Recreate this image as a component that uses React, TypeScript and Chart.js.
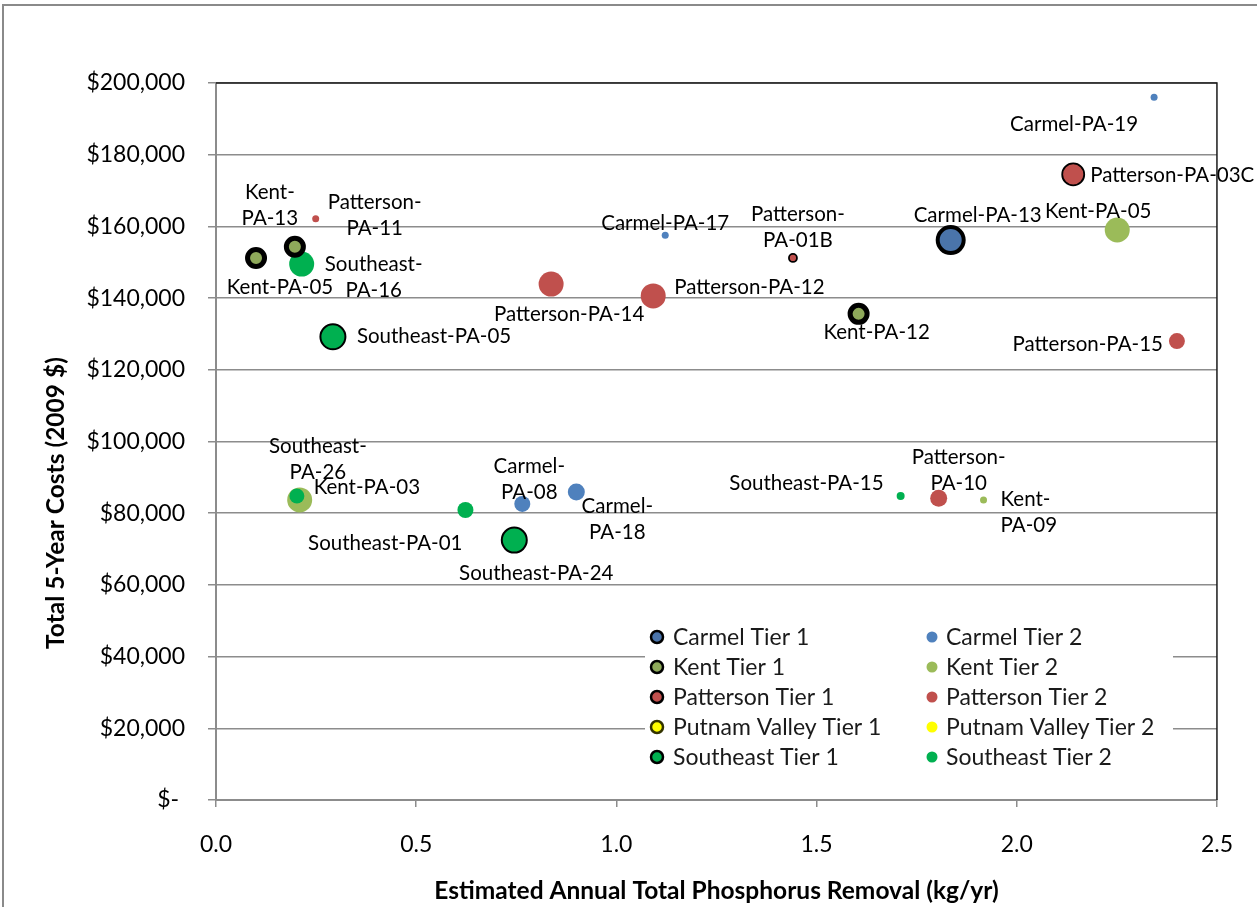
import React, { useEffect, useRef } from "react";
import { Chart, registerables } from "chart.js";

Chart.register(...registerables);

// Legend entries, in the order they appear (two columns, row by row)
const seriesNames = [
  "Carmel Tier 1",
  "Carmel Tier 2",
  "Kent Tier 1",
  "Kent Tier 2",
  "Patterson Tier 1",
  "Patterson Tier 2",
  "Putnam Valley Tier 1",
  "Putnam Valley Tier 2",
  "Southeast Tier 1",
  "Southeast Tier 2",
];

// Project names
const projects = [
  "Carmel-PA-19",
  "Patterson-PA-03C",
  "Kent-PA-05",
  "Carmel-PA-13",
  "Patterson-PA-15",
  "Carmel-PA-17",
  "Patterson-PA-01B",
  "Patterson-PA-14",
  "Patterson-PA-12",
  "Kent-PA-12",
  "Kent-PA-13",
  "Patterson-PA-11",
  "Kent-PA-05",
  "Southeast-PA-16",
  "Southeast-PA-05",
  "Southeast-PA-26",
  "Kent-PA-03",
  "Southeast-PA-01",
  "Carmel-PA-08",
  "Carmel-PA-18",
  "Southeast-PA-24",
  "Southeast-PA-15",
  "Patterson-PA-10",
  "Kent-PA-09",
];

// Series each project belongs to
const projectSeries = [
  "Carmel Tier 2",
  "Patterson Tier 1",
  "Kent Tier 2",
  "Carmel Tier 1",
  "Patterson Tier 2",
  "Carmel Tier 2",
  "Patterson Tier 1",
  "Patterson Tier 2",
  "Patterson Tier 2",
  "Kent Tier 1",
  "Kent Tier 1",
  "Patterson Tier 2",
  "Kent Tier 1",
  "Southeast Tier 2",
  "Southeast Tier 1",
  "Southeast Tier 2",
  "Kent Tier 2",
  "Southeast Tier 2",
  "Carmel Tier 2",
  "Carmel Tier 2",
  "Southeast Tier 1",
  "Southeast Tier 2",
  "Patterson Tier 2",
  "Kent Tier 2",
];

// Estimated annual total phosphorus removal (kg/yr)
const removal = [
  2.343, 2.141, 2.251, 1.835, 2.4, 1.122, 1.441, 0.837, 1.092, 1.605, 0.197,
  0.249, 0.1, 0.214, 0.292, 0.202, 0.209, 0.623, 0.765, 0.9, 0.745, 1.71,
  1.805, 1.917,
];

// Total 5-year costs (2009 $)
const cost = [
  196000, 174500, 159000, 156200, 128000, 157500, 151200, 143900, 140600,
  135600, 154300, 162100, 151200, 149500, 129200, 84800, 83700, 80900, 82600,
  85900, 72500, 84800, 84200, 83700,
];

// Bubble size (radius)
const bubbleSize = [
  3.5, 11, 12.5, 13, 8, 3.5, 4, 12.5, 12.5, 8.5, 8.5, 3.5, 8.5, 12.5, 12.5,
  7.5, 12.5, 8, 8, 8.5, 12.5, 4, 8.5, 3.5,
];

// Appearance of each series
const seriesStyle: Record<string, { fill: string; border: string; width: number; order: number }> = {
  "Carmel Tier 1": { fill: "#4a74aa", border: "#000000", width: 4, order: 1 },
  "Carmel Tier 2": { fill: "#4f81bd", border: "#4f81bd", width: 0, order: 3 },
  "Kent Tier 1": { fill: "#8ea95a", border: "#000000", width: 5, order: 1 },
  "Kent Tier 2": { fill: "#9bbb59", border: "#9bbb59", width: 0, order: 3 },
  "Patterson Tier 1": { fill: "#c0504d", border: "#000000", width: 1.8, order: 1 },
  "Patterson Tier 2": { fill: "#c0504d", border: "#c0504d", width: 0, order: 3 },
  "Putnam Valley Tier 1": { fill: "#ffff00", border: "#333300", width: 2, order: 1 },
  "Putnam Valley Tier 2": { fill: "#ffff00", border: "#ffff00", width: 0, order: 3 },
  "Southeast Tier 1": { fill: "#00b050", border: "#000000", width: 2, order: 1 },
  "Southeast Tier 2": { fill: "#00b050", border: "#00b050", width: 0, order: 2 },
};

// Label placement relative to each bubble: offset, alignment, two-line wrap
type LabelPlace = { dx: number; dy: number; align: "left" | "center" | "right"; wrap?: boolean };
const labelPlacement: LabelPlace[] = [
  { dx: -80, dy: 27, align: "center" },
  { dx: 17, dy: 1, align: "left" },
  { dx: -19, dy: -19, align: "center" },
  { dx: 27, dy: -25, align: "center" },
  { dx: -14, dy: 3, align: "right" },
  { dx: 0, dy: -12, align: "center" },
  { dx: 5, dy: -31, align: "center", wrap: true },
  { dx: 18, dy: 30, align: "center" },
  { dx: 21, dy: -9, align: "left" },
  { dx: 18, dy: 19, align: "center" },
  { dx: -25, dy: -41, align: "center", wrap: true },
  { dx: 59, dy: -3, align: "center", wrap: true },
  { dx: 24, dy: 29, align: "center" },
  { dx: 72, dy: 13, align: "center", wrap: true },
  { dx: 24, dy: 0, align: "left" },
  { dx: 21, dy: -37, align: "center", wrap: true },
  { dx: 14, dy: -13, align: "left" },
  { dx: -3, dy: 33, align: "right" },
  { dx: 7, dy: -24, align: "center", wrap: true },
  { dx: 41, dy: 27, align: "center", wrap: true },
  { dx: 22, dy: 33, align: "center" },
  { dx: -17, dy: -13, align: "right" },
  { dx: 20, dy: -28, align: "center", wrap: true },
  { dx: 17, dy: 12, align: "left", wrap: true },
];

const xTicks = [0, 0.5, 1.0, 1.5, 2.0, 2.5];
const yTicks = [0, 20000, 40000, 60000, 80000, 100000, 120000, 140000, 160000, 180000, 200000];

const yTitle = "Total 5-Year Costs (2009 $)";
const xTitle = "Estimated Annual Total Phosphorus Removal (kg/yr)";

const FONT = "Lato, 'Liberation Sans', sans-serif";
const GRID = "#8c8c8c";

function formatCost(v: number): string {
  if (v === 0) return "$- ";
  return "$" + v.toLocaleString("en-US");
}

function splitName(name: string): string[] {
  const i = name.indexOf("-");
  return [name.slice(0, i + 1), name.slice(i + 1)];
}

// Frame around the whole figure, plot-area edges and the vertical axis title
const framePlugin = {
  id: "frame",
  beforeDraw(chart: any) {
    const { ctx, width, height } = chart;
    ctx.save();
    ctx.fillStyle = "#ffffff";
    ctx.fillRect(0, 0, width, height);
    ctx.strokeStyle = "#8a8a8a";
    ctx.lineWidth = 2;
    ctx.strokeRect(3, 5, width + 20, height + 20);
    ctx.restore();
  },
  afterDraw(chart: any) {
    const { ctx, chartArea } = chart;
    ctx.save();
    ctx.strokeStyle = "#1a1a1a";
    ctx.lineWidth = 1.5;
    ctx.beginPath();
    ctx.moveTo(chartArea.left, chartArea.top);
    ctx.lineTo(chartArea.right, chartArea.top);
    ctx.lineTo(chartArea.right, chartArea.bottom);
    ctx.stroke();

    ctx.translate(56, 503);
    ctx.rotate(-Math.PI / 2);
    ctx.font = `bold 24.5px ${FONT}`;
    ctx.fillStyle = "#000000";
    ctx.textAlign = "center";
    ctx.textBaseline = "middle";
    ctx.fillText(yTitle, 0, 0);
    ctx.restore();
  },
};

// Name labels next to each bubble
const labelPlugin = {
  id: "projectLabels",
  afterDatasetsDraw(chart: any) {
    const ctx = chart.ctx;
    ctx.save();
    ctx.font = `20.5px ${FONT}`;
    ctx.fillStyle = "#000000";
    ctx.textBaseline = "middle";
    chart.data.datasets.forEach((ds: any, di: number) => {
      const meta = chart.getDatasetMeta(di);
      ds.projectIndex.forEach((pi: number, j: number) => {
        const el = meta.data[j];
        if (!el) return;
        const place = labelPlacement[pi];
        const lines = place.wrap ? splitName(projects[pi]) : [projects[pi]];
        const lh = 26;
        ctx.textAlign = place.align;
        lines.forEach((line, k) => {
          const y = el.y + place.dy + (k - (lines.length - 1) / 2) * lh;
          ctx.fillText(line, el.x + place.dx, y);
        });
      });
    });
    ctx.restore();
  },
};

// Two-column legend inside the plot area
const legendPlugin = {
  id: "twoColumnLegend",
  afterDatasetsDraw(chart: any) {
    const ctx = chart.ctx;
    const box = { left: 645, top: 621, right: 1173, bottom: 774 };
    ctx.save();
    ctx.fillStyle = "#ffffff";
    ctx.fillRect(box.left, box.top, box.right - box.left, box.bottom - box.top);
    ctx.font = `23px ${FONT}`;
    ctx.textBaseline = "middle";
    ctx.textAlign = "left";
    const colMarker = [657, 932];
    const colText = [673, 946];
    const rowY = [637, 667, 697, 727, 757];
    seriesNames.forEach((name, i) => {
      const col = i % 2;
      const row = Math.floor(i / 2);
      const st = seriesStyle[name];
      const cx = colMarker[col];
      const cy = rowY[row];
      ctx.beginPath();
      if (st.width > 0) {
        ctx.arc(cx, cy, 6, 0, Math.PI * 2);
        ctx.fillStyle = st.fill;
        ctx.fill();
        ctx.lineWidth = 2.5;
        ctx.strokeStyle = st.border;
        ctx.stroke();
      } else {
        ctx.arc(cx, cy, 5.5, 0, Math.PI * 2);
        ctx.fillStyle = st.fill;
        ctx.fill();
      }
      ctx.fillStyle = "#1a1a1a";
      ctx.fillText(name, colText[col], cy + 1);
    });
    ctx.restore();
  },
};

export default function App() {
  const canvasRef = useRef<HTMLCanvasElement | null>(null);

  useEffect(() => {
    document.body.style.margin = "0";
    const canvas = canvasRef.current;
    if (!canvas) return;

    const datasets = seriesNames.map((name) => {
      const idx = projects.map((_, i) => i).filter((i) => projectSeries[i] === name);
      const st = seriesStyle[name];
      return {
        label: name,
        projectIndex: idx,
        data: idx.map((i) => ({ x: removal[i], y: cost[i], r: bubbleSize[i] })),
        backgroundColor: st.fill,
        borderColor: st.border,
        borderWidth: st.width,
        order: st.order,
      };
    });

    const chart = new Chart(canvas, {
      type: "bubble",
      data: { datasets } as any,
      options: {
        animation: false,
        responsive: false,
        devicePixelRatio: 1,
        layout: { padding: { top: 83, right: 38, left: 0, bottom: 0 } },
        plugins: {
          legend: { display: false },
          tooltip: { enabled: false },
        },
        scales: {
          x: {
            type: "linear",
            min: 0,
            max: 2.5,
            afterBuildTicks: (scale: any) => {
              scale.ticks = xTicks.map((v) => ({ value: v }));
            },
            afterFit: (scale: any) => {
              scale.height = 107;
            },
            ticks: {
              padding: 24,
              color: "#000000",
              font: { family: FONT, size: 23 },
              callback: (v: any) => Number(v).toFixed(1),
            },
            grid: {
              drawOnChartArea: false,
              drawTicks: true,
              tickLength: 7,
              color: GRID,
              lineWidth: 1.5,
            },
            border: { color: GRID, width: 2 },
            title: {
              display: true,
              text: xTitle,
              color: "#000000",
              font: { family: FONT, size: 24.5, weight: "bold" },
              padding: { top: 0, bottom: 1 },
            },
          },
          y: {
            type: "linear",
            min: 0,
            max: 200000,
            afterBuildTicks: (scale: any) => {
              scale.ticks = yTicks.map((v) => ({ value: v }));
            },
            afterFit: (scale: any) => {
              scale.width = 216;
            },
            ticks: {
              padding: 23,
              color: "#000000",
              font: { family: FONT, size: 23 },
              callback: (v: any) => formatCost(Number(v)),
            },
            grid: {
              drawOnChartArea: true,
              drawTicks: true,
              tickLength: 8,
              color: GRID,
              lineWidth: 1.5,
            },
            border: { color: GRID, width: 2 },
            title: { display: false },
          },
        },
      } as any,
      plugins: [framePlugin, labelPlugin, legendPlugin],
    });

    return () => chart.destroy();
  }, []);

  return (
    <div style={{ width: 1257, height: 907 }}>
      <canvas ref={canvasRef} width={1257} height={907} style={{ display: "block" }} />
    </div>
  );
}
